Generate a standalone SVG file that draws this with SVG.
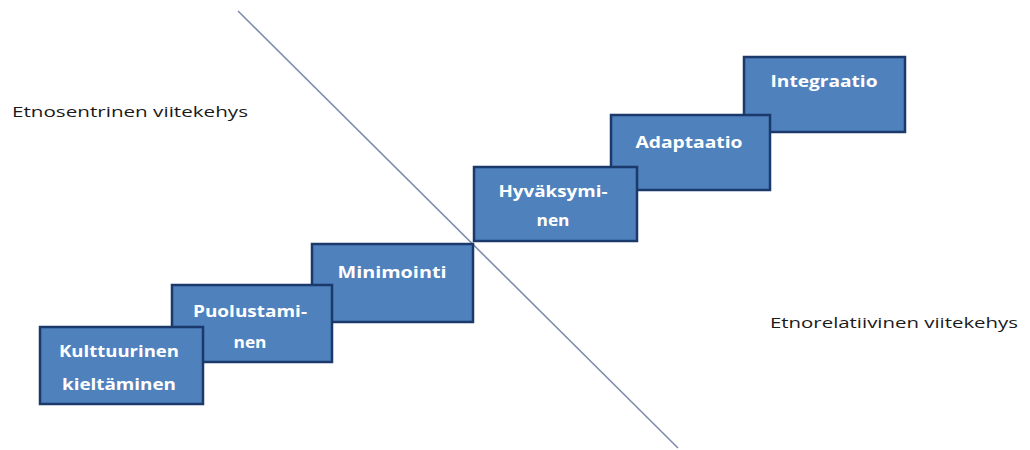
<svg xmlns="http://www.w3.org/2000/svg" width="1030" height="450" viewBox="0 0 1030 450">
<style>
.box{fill:#4F81BD;stroke:#1B3A6B;stroke-width:2.5}
.bt{fill:#FFFFFF;font-family:"Open Sans","Liberation Sans",sans-serif;font-weight:bold;font-size:16px;text-anchor:middle}
.lbl{fill:#1A1A1A;font-family:"Open Sans","Liberation Sans",sans-serif;font-size:15px;font-weight:500}
</style>
<rect width="1030" height="450" fill="#FFFFFF"/>
<g id="connectors">
<line x1="238" y1="11" x2="678" y2="448" stroke="#7F8DAD" stroke-width="1.6"/>
</g>
<g id="integraatio">
<rect class="box" x="744" y="57" width="161" height="75"/>
<text class="bt" x="824" y="87" textLength="107" lengthAdjust="spacingAndGlyphs">Integraatio</text>
</g>
<g id="adaptaatio">
<rect class="box" x="611" y="115" width="159" height="75"/>
<text class="bt" x="689" y="148" textLength="107" lengthAdjust="spacingAndGlyphs">Adaptaatio</text>
</g>
<g id="hyvaksyminen">
<rect class="box" x="474" y="167" width="163" height="74"/>
<text class="bt" x="553" y="197" textLength="109" lengthAdjust="spacingAndGlyphs">Hyväksymi-</text>
<text class="bt" x="553" y="226" textLength="33" lengthAdjust="spacingAndGlyphs">nen</text>
</g>
<g id="minimointi">
<rect class="box" x="312" y="244" width="161" height="78"/>
<text class="bt" x="392" y="278" textLength="109" lengthAdjust="spacingAndGlyphs">Minimointi</text>
</g>
<g id="puolustaminen">
<rect class="box" x="172" y="285" width="160" height="77"/>
<text class="bt" x="250" y="317" textLength="114" lengthAdjust="spacingAndGlyphs">Puolustami-</text>
<text class="bt" x="250" y="348" textLength="33" lengthAdjust="spacingAndGlyphs">nen</text>
</g>
<g id="kulttuurinen">
<rect class="box" x="40" y="327" width="163" height="77"/>
<text class="bt" x="119" y="357" textLength="120" lengthAdjust="spacingAndGlyphs">Kulttuurinen</text>
<text class="bt" x="119" y="390" textLength="114" lengthAdjust="spacingAndGlyphs">kieltäminen</text>
</g>
<g id="labels">
<text class="lbl" x="12" y="117" textLength="236" lengthAdjust="spacingAndGlyphs">Etnosentrinen viitekehys</text>
<text class="lbl" x="770" y="328" textLength="248" lengthAdjust="spacingAndGlyphs">Etnorelatiivinen viitekehys</text>
</g>
</svg>
